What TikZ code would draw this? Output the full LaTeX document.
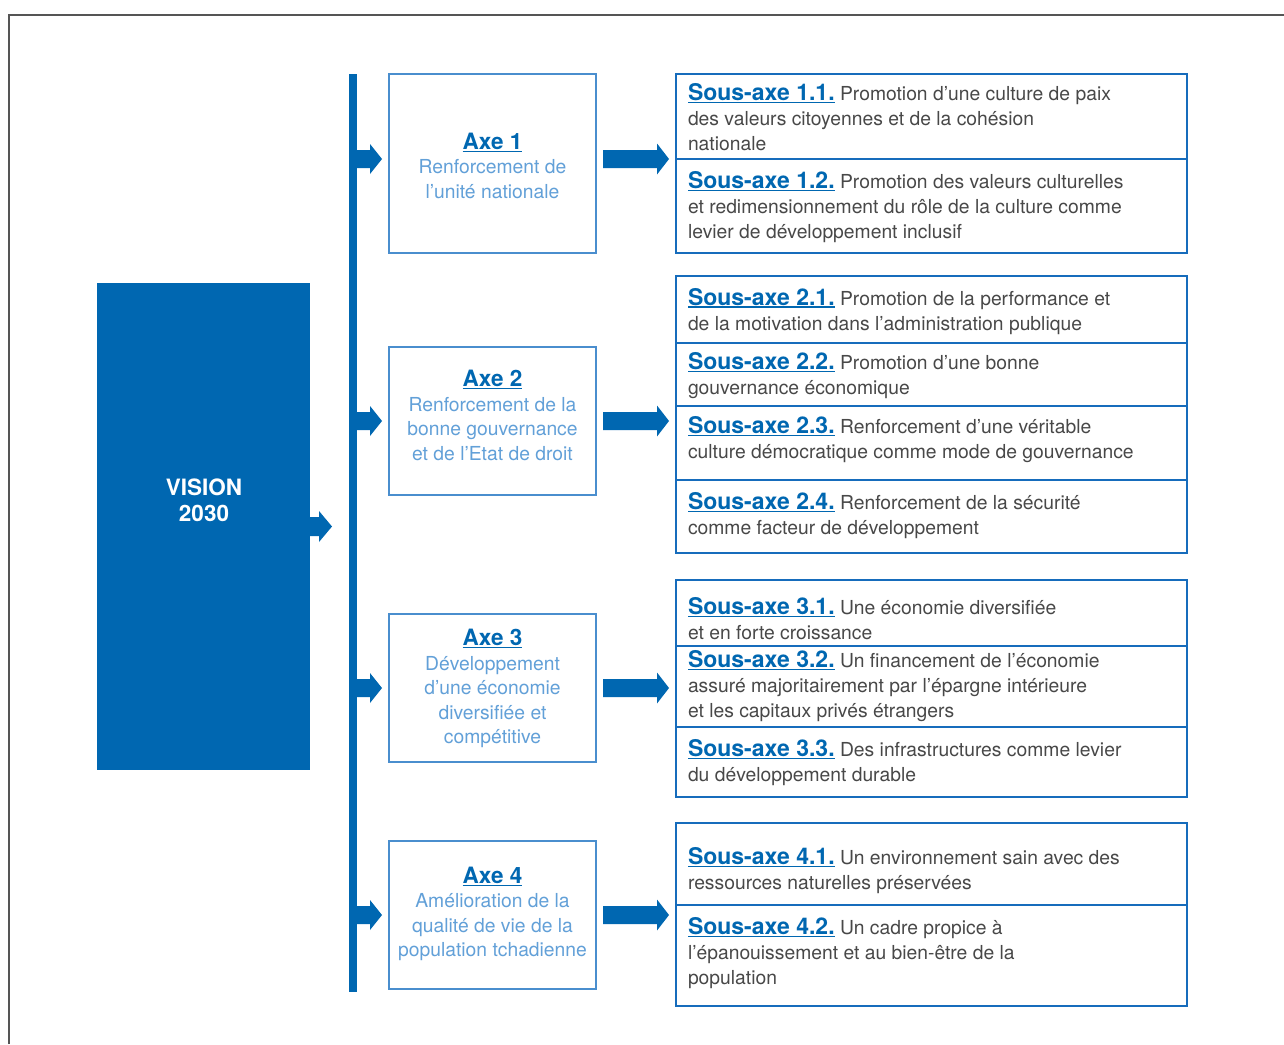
\documentclass[tikz,border=0pt]{standalone}
\usepackage{fontspec}
\setmainfont{TeX Gyre Heros}
\usetikzlibrary{calc}

\definecolor{vblue}{RGB}{0,103,177}
\definecolor{axisline}{RGB}{74,142,206}
\definecolor{axistext}{RGB}{98,160,216}
\definecolor{subline}{RGB}{22,108,188}
\definecolor{bodygray}{RGB}{72,72,72}
\definecolor{framegray}{RGB}{85,85,85}

% underlined label with a rule just below the baseline
\newcommand\ulabel[1]{\leavevmode\setbox0\hbox{#1}\rlap{\rule[-2.6pt]{\wd0}{1.3pt}}\box0}
\newcommand\sublbl[1]{{\fontsize{23}{25}\selectfont\bfseries\color{vblue}\ulabel{Sous-axe #1}}}
\newcommand\subtext[2]{\parbox[t]{495pt}{\raggedright\fontsize{19.3}{25}\selectfont\leavevmode\color{bodygray}\sublbl{#1} #2}}
\newcommand\axtext[2]{\parbox[t]{207pt}{\centering\fontsize{19.3}{24.5}\selectfont\leavevmode\color{axistext}{\fontsize{22.5}{24.5}\selectfont\bfseries\color{vblue}\ulabel{#1}}\\#2}}

% block arrow: start, end (same height), shaft half-width, head half-width, head length
\newcommand\blockarrow[5]{\fill[vblue] ($(#1)+(0,-#3)$) -- ($(#2)+(-#5,-#3)$) -- ($(#2)+(-#5,-#4)$) -- (#2) -- ($(#2)+(-#5,#4)$) -- ($(#2)+(-#5,#3)$) -- ($(#1)+(0,#3)$) -- cycle;}

\begin{document}
\begin{tikzpicture}[x=1pt,y=-1pt,
  axbox/.style={draw=axisline, line width=1.5pt, rectangle, inner sep=0, outer sep=0, minimum width=207pt},
  subbox/.style={draw=subline, line width=1.5pt, rectangle, inner sep=0, outer sep=0, minimum width=511pt},
  txt/.style={inner sep=0, outer sep=0, anchor=base west},
  ctxt/.style={inner sep=0, outer sep=0, anchor=base}]

\fill[white] (0,0) rectangle (1284,1044);
\useasboundingbox (0,0) rectangle (1284,1044);

% outer frame
\draw[framegray, line width=1.3pt] (9,1044) -- (9,15) -- (1284,15);

% vision block and vertical bar
\node[fill=vblue, rectangle, inner sep=0, outer sep=0, minimum width=213pt, minimum height=487pt] (vis) at (203.5,526.5) {};
\node[fill=vblue, rectangle, inner sep=0, outer sep=0, minimum width=8pt, minimum height=918pt] (bar) at (353,533) {};
\node[ctxt] (vistxt) at (204,495) {\parbox[t]{150pt}{\centering\fontsize{22.5}{26.7}\selectfont\bfseries\leavevmode\color{white}VISION\\2030}};

% axis boxes
\node[axbox, minimum height=179pt] (a1) at (492.5,163.5) {};
\node[axbox, minimum height=148pt] (a2) at (492.5,421) {};
\node[axbox, minimum height=148pt] (a3) at (492.5,688) {};
\node[axbox, minimum height=148pt] (a4) at (492.5,915) {};

% sub-axis boxes with their dividers
\node[subbox, minimum height=179pt] (s1) at (931.5,163.5) {};
\node[subbox, minimum height=277pt] (s2) at (931.5,414.5) {};
\node[subbox, minimum height=217pt] (s3) at (931.5,688.5) {};
\node[subbox, minimum height=183pt] (s4) at (931.5,914.5) {};
\foreach \yy in {159,343,406,480,646,727,905}
  \draw[subline, line width=1.5pt] (676,\yy) -- (1187,\yy);

% arrows
\coordinate (r1) at (0,159);
\coordinate (r2) at (0,421);
\coordinate (r3) at (0,688);
\coordinate (r4) at (0,915);
\foreach \i in {1,...,4}{
  \coordinate (ls\i) at (bar.east |- r\i);
  \coordinate (le\i) at ($(a\i.west |- r\i)+(-7,0)$);
  \coordinate (bs\i) at ($(a\i.east |- r\i)+(7,0)$);
  \coordinate (be\i) at ($(s\i.west |- r\i)+(-7,0)$);
  \blockarrow{ls\i}{le\i}{9}{15}{12}
  \blockarrow{bs\i}{be\i}{9}{15.5}{12}
}
\coordinate (vs) at (vis.east);
\coordinate (ve) at ($(bar.west |- vis.east)+(-17,0)$);
\blockarrow{vs}{ve}{9.5}{15.5}{13}

% axis texts
\node[ctxt] (t1) at (492.5,149.3) {\axtext{Axe 1}{Renforcement de\\l’unité nationale}};
\node[ctxt] (t2) at (492.5,386.7) {\axtext{Axe 2}{Renforcement de la\\bonne gouvernance\\et de l’Etat de droit}};
\node[ctxt] (t3) at (492.5,645.7) {\axtext{Axe 3}{Développement\\d’une économie\\diversifiée et\\compétitive}};
\node[ctxt] (t4) at (492.5,883.3) {\axtext{Axe 4}{Amélioration de la\\qualité de vie de la\\population tchadienne}};

% sub-axis texts
\node[txt] (u11) at (688,100.7) {\subtext{1.1.}{Promotion d’une culture de paix\\des valeurs citoyennes et de la cohésion\\nationale}};
\node[txt] (u12) at (688,188.3) {\subtext{1.2.}{Promotion des valeurs culturelles\\et redimensionnement du rôle de la culture comme\\levier de développement inclusif}};
\node[txt] (u21) at (688,305) {\subtext{2.1.}{Promotion de la performance et\\de la motivation dans l’administration publique}};
\node[txt] (u22) at (688,369.3) {\subtext{2.2.}{Promotion d’une bonne\\gouvernance économique}};
\node[txt] (u23) at (688,433.3) {\subtext{2.3.}{Renforcement d’une véritable\\culture démocratique comme mode de gouvernance}};
\node[txt] (u24) at (688,509.3) {\subtext{2.4.}{Renforcement de la sécurité\\comme facteur de développement}};
\node[txt] (u31) at (688,614.3) {\subtext{3.1.}{Une économie diversifiée\\et en forte croissance}};
\node[txt] (u32) at (688,667.7) {\subtext{3.2.}{Un financement de l’économie\\assuré majoritairement par l’épargne intérieure\\et les capitaux privés étrangers}};
\node[txt] (u33) at (688,756.7) {\subtext{3.3.}{Des infrastructures comme levier\\du développement durable}};
\node[txt] (u41) at (688,864.3) {\subtext{4.1.}{Un environnement sain avec des\\ressources naturelles préservées}};
\node[txt] (u42) at (688,934.3) {\subtext{4.2.}{Un cadre propice à\\l’épanouissement et au bien-être de la\\population}};

\end{tikzpicture}
\end{document}
